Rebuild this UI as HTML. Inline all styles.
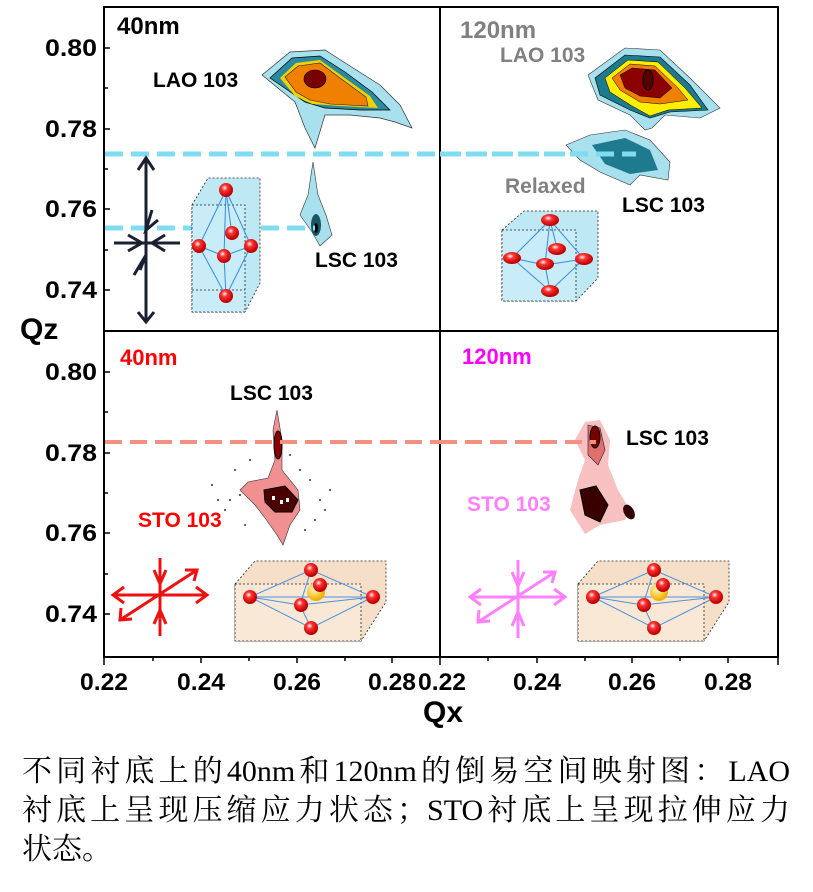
<!DOCTYPE html>
<html><head><meta charset="utf-8"><style>
body{margin:0;background:#fff;width:813px;height:892px;overflow:hidden}
svg{position:absolute;left:0;top:0}
.cap{position:absolute;left:22px;top:752px;width:768px;font-family:"Liberation Serif","Noto Serif CJK SC",serif;font-size:30px;line-height:39px;color:#000;white-space:nowrap}
.j{text-align:justify;text-align-last:justify}
</style></head><body>
<svg width="813" height="750" viewBox="0 0 813 750" font-family="Liberation Sans, sans-serif" font-weight="bold">
<defs>
<radialGradient id="ball" cx="40%" cy="35%" r="60%"><stop offset="0" stop-color="#fff"/><stop offset="0.35" stop-color="#f33"/><stop offset="1" stop-color="#b00"/></radialGradient>
<radialGradient id="gold" cx="40%" cy="35%" r="60%"><stop offset="0" stop-color="#fff8c0"/><stop offset="1" stop-color="#f0b000"/></radialGradient>
</defs>
<g stroke="#000" stroke-width="2" fill="none">
<rect x="104" y="7" width="674" height="650"/>
<line x1="440" y1="7" x2="440" y2="657"/>
<line x1="104" y1="331" x2="778" y2="331"/>
</g>
<g stroke="#000" stroke-width="1.5">
<line x1="104" y1="48" x2="110" y2="48"/><line x1="104" y1="88" x2="108" y2="88"/><line x1="104" y1="129" x2="110" y2="129"/><line x1="104" y1="169" x2="108" y2="169"/><line x1="104" y1="209" x2="110" y2="209"/><line x1="104" y1="250" x2="108" y2="250"/><line x1="104" y1="290" x2="110" y2="290"/>
<line x1="104" y1="372" x2="110" y2="372"/><line x1="104" y1="412" x2="108" y2="412"/><line x1="104" y1="453" x2="110" y2="453"/><line x1="104" y1="493" x2="108" y2="493"/><line x1="104" y1="533" x2="110" y2="533"/><line x1="104" y1="574" x2="108" y2="574"/><line x1="104" y1="614" x2="110" y2="614"/>
<line x1="201" y1="657" x2="201" y2="663"/><line x1="297" y1="657" x2="297" y2="663"/><line x1="392" y1="657" x2="392" y2="663"/>
<line x1="153" y1="657" x2="153" y2="661"/><line x1="249" y1="657" x2="249" y2="661"/><line x1="345" y1="657" x2="345" y2="661"/>
<line x1="440" y1="657" x2="440" y2="665"/><line x1="104" y1="657" x2="104" y2="665"/><line x1="778" y1="657" x2="778" y2="665"/>
<line x1="537" y1="657" x2="537" y2="663"/><line x1="632" y1="657" x2="632" y2="663"/><line x1="728" y1="657" x2="728" y2="663"/>
<line x1="488" y1="657" x2="488" y2="661"/><line x1="585" y1="657" x2="585" y2="661"/><line x1="680" y1="657" x2="680" y2="661"/>
</g>
<g font-size="24" text-anchor="end" fill="#000">
<text x="97" y="56" textLength="52" lengthAdjust="spacingAndGlyphs">0.80</text><text x="97" y="137" textLength="52" lengthAdjust="spacingAndGlyphs">0.78</text><text x="97" y="217" textLength="52" lengthAdjust="spacingAndGlyphs">0.76</text><text x="97" y="298" textLength="52" lengthAdjust="spacingAndGlyphs">0.74</text>
<text x="97" y="380" textLength="52" lengthAdjust="spacingAndGlyphs">0.80</text><text x="97" y="461" textLength="52" lengthAdjust="spacingAndGlyphs">0.78</text><text x="97" y="541" textLength="52" lengthAdjust="spacingAndGlyphs">0.76</text><text x="97" y="622" textLength="52" lengthAdjust="spacingAndGlyphs">0.74</text>
</g>
<g font-size="24" fill="#000">
<text x="80" y="690" textLength="48" lengthAdjust="spacingAndGlyphs">0.22</text><text x="177" y="690" textLength="48" lengthAdjust="spacingAndGlyphs">0.24</text><text x="273" y="690" textLength="48" lengthAdjust="spacingAndGlyphs">0.26</text><text x="368" y="690" textLength="48" lengthAdjust="spacingAndGlyphs">0.28</text>
<text x="418" y="690" textLength="48" lengthAdjust="spacingAndGlyphs">0.22</text><text x="513" y="690" textLength="48" lengthAdjust="spacingAndGlyphs">0.24</text><text x="608" y="690" textLength="48" lengthAdjust="spacingAndGlyphs">0.26</text><text x="704" y="690" textLength="48" lengthAdjust="spacingAndGlyphs">0.28</text>
</g>
<text x="20" y="339" font-size="30">Qz</text>
<text x="423" y="722" font-size="30">Qx</text>

<path d="M262,75 L290,52 L325,50 L350,66 L380,85 L400,105 L412,128 L395,122 L380,118 L350,115 L325,115 L315,148 L305,128 L295,102 Z" fill="#a8e0ee" stroke="#333" stroke-width="0.7"/>
<path d="M270,78 L292,58 L320,56 L345,72 L372,92 L390,110 L360,110 L325,108 L305,102 Z" fill="#2a8aa0" stroke="#000" stroke-width="0.7"/>
<path d="M280,78 L296,63 L320,60 L342,76 L370,96 L378,108 L340,106 L312,104 L295,96 Z" fill="#f5d000"/>
<path d="M285,77 L298,66 L320,63 L340,78 L366,97 L368,106 L330,104 L310,100 L296,92 Z" fill="#f08000" stroke="#222" stroke-width="0.6"/>
<ellipse cx="315" cy="79" rx="11" ry="9" fill="#7a0000" stroke="#000" stroke-width="0.6"/>
<path d="M300,215 L308,195 L313,162 L318,195 L326,215 L332,235 L320,246 L312,232 Z" fill="#a8e0ee" stroke="#333" stroke-width="0.6"/>
<ellipse cx="316" cy="225" rx="5" ry="11" fill="#1a5566"/>
<ellipse cx="316" cy="228" rx="2" ry="5" fill="#000"/>
<g stroke="#80dcf0" stroke-width="5" stroke-dasharray="18,8">
<line x1="105" y1="154" x2="600" y2="154"/>
<line x1="105" y1="228" x2="315" y2="228"/>
</g>
<g stroke="#1a2030" stroke-width="3" fill="none">
<line x1="146" y1="158" x2="146" y2="322"/>
<polyline points="138,170 146,158 154,170"/><polyline points="138,312 146,322 154,312"/>
<line x1="114" y1="243" x2="180" y2="243"/>
<polyline points="128,235 142,243 128,251"/><polyline points="165,235 152,243 165,251"/>
<polyline points="152,210 146,230 158,220"/><polyline points="134,275 146,255 140,270"/>
</g>
<g stroke="#222" stroke-width="0.8" stroke-dasharray="2,2">
<path d="M192,205 L208,178 L260,178 L260,283 L245,312 L192,312 Z" fill="#bfe8f5"/>
<rect x="192" y="205" width="53" height="107" fill="#c8ecf8"/>
<path d="M192,290 L245,290" fill="none"/>
</g>
<g stroke="#3a8ae0" stroke-width="1" fill="none">
<path d="M226,190 L199,246 L226,296 L251,246 Z M226,190 L224,256 L226,296 M199,246 L224,256 L251,246 M226,190 L232,235"/>
</g>
<g fill="url(#ball)"><circle cx="226" cy="190" r="7"/><circle cx="232" cy="233" r="7"/><circle cx="199" cy="246" r="7"/><circle cx="224" cy="256" r="7"/><circle cx="251" cy="246" r="7"/><circle cx="226" cy="296" r="7"/></g>

<path d="M588,75 L625,48 L660,50 L690,78 L720,108 L700,118 L665,115 L652,128 L645,130 L630,115 L598,100 Z" fill="#a8e0ee" stroke="#333" stroke-width="0.6"/>
<path d="M595,78 L625,55 L660,57 L690,85 L708,110 L670,112 L650,118 L630,110 L600,95 Z" fill="#1e7a8e" stroke="#000" stroke-width="0.6"/>
<path d="M605,78 L628,60 L658,62 L685,88 L702,108 L668,110 L650,116 L632,106 L610,92 Z" fill="#ffee00" stroke="#000" stroke-width="0.5"/>
<path d="M612,78 L630,64 L655,66 L678,88 L688,100 L660,104 L640,102 L620,90 Z" fill="#f08000" stroke="#000" stroke-width="0.5"/>
<path d="M620,75 L632,68 L655,70 L672,88 L660,98 L640,96 L625,88 Z" fill="#8b0000" stroke="#000" stroke-width="0.5"/>
<ellipse cx="648" cy="80" rx="5" ry="10" fill="#500" stroke="#000"/>
<path d="M566,145 L590,135 L625,130 L650,140 L670,162 L668,180 L640,175 L630,185 L600,172 L580,160 Z" fill="#a8e0ee" stroke="#333" stroke-width="0.6"/>
<path d="M592,145 L625,138 L650,150 L658,170 L630,174 L605,164 Z" fill="#1e7a8e"/>
<line x1="440" y1="154" x2="636" y2="154" stroke="#80dcf0" stroke-width="5" stroke-dasharray="18,8"/>
<g stroke="#222" stroke-width="0.8" stroke-dasharray="2,2">
<path d="M502,230 L524,211 L598,211 L598,278 L576,301 L502,301 Z" fill="#bfe8f5"/>
<rect x="502" y="230" width="74" height="71" fill="#c8ecf8"/>
</g>
<g stroke="#3a8ae0" stroke-width="1" fill="none">
<path d="M550,220 L512,258 L550,291 L584,259 Z M550,220 L545,265 L550,291 M512,258 L545,265 L584,259 M550,220 L557,248"/>
</g>
<g fill="url(#ball)"><ellipse cx="550" cy="220" rx="9" ry="6"/><ellipse cx="557" cy="249" rx="9" ry="6"/><ellipse cx="512" cy="258" rx="9" ry="6"/><ellipse cx="545" cy="264" rx="9" ry="6"/><ellipse cx="584" cy="259" rx="9" ry="6"/><ellipse cx="550" cy="291" rx="9" ry="6"/></g>

<g fill="#333">
<circle cx="240" cy="495" r="1"/><circle cx="230" cy="500" r="1"/><circle cx="225" cy="510" r="1"/><circle cx="320" cy="500" r="1"/><circle cx="315" cy="520" r="1"/><circle cx="300" cy="470" r="1"/><circle cx="235" cy="470" r="1"/><circle cx="250" cy="460" r="1"/><circle cx="310" cy="480" r="1"/><circle cx="325" cy="510" r="1"/><circle cx="218" cy="500" r="1"/><circle cx="290" cy="455" r="1"/><circle cx="245" cy="525" r="1"/><circle cx="305" cy="530" r="1"/><circle cx="212" cy="485" r="1"/><circle cx="330" cy="490" r="1"/>
</g>
<path d="M277,410 L282,440 L282,470 L298,490 L300,510 L290,525 L283,545 L277,535 L265,518 L255,505 L240,490 L248,482 L268,478 L275,460 L273,430 Z" fill="#f09090" stroke="#333" stroke-width="0.6"/>
<ellipse cx="278" cy="445" rx="4" ry="14" fill="#8b0000" stroke="#000"/>
<path d="M264,490 L285,486 L298,500 L292,512 L275,512 L265,502 Z" fill="#4a0000" stroke="#000"/>
<g fill="#fff"><rect x="272" y="496" width="3" height="4"/><rect x="280" y="500" width="3" height="4"/><rect x="286" y="498" width="3" height="4"/></g>
<line x1="105" y1="442" x2="440" y2="442" stroke="#f49080" stroke-width="4" stroke-dasharray="17,8"/>
<path d="M575,440 L585,422 L600,420 L610,440 L608,465 L618,490 L630,510 L625,520 L600,525 L585,534 L570,510 L578,480 L585,460 Z" fill="#f8c0c0"/>
<path d="M588,425 L600,428 L605,450 L598,465 L588,455 Z" fill="#e07070" stroke="#222" stroke-width="0.6"/>
<ellipse cx="595" cy="437" rx="5" ry="11" fill="#700" stroke="#000"/>
<path d="M580,490 L596,486 L608,505 L600,522 L585,515 Z" fill="#3a0000" stroke="#000"/>
<ellipse cx="629" cy="512" rx="5" ry="8" fill="#300" transform="rotate(-30 629 512)"/>
<line x1="440" y1="442" x2="596" y2="442" stroke="#f49080" stroke-width="4" stroke-dasharray="17,8"/>
<g stroke="#ee1111" stroke-width="3" fill="none">
<line x1="160" y1="558" x2="160" y2="636"/>
<polyline points="154,570 160,584 166,570"/><polyline points="154,624 160,610 166,624"/>
<line x1="113" y1="595" x2="207" y2="595"/>
<polyline points="124,587 113,595 124,603"/><polyline points="196,587 207,595 196,603"/>
<line x1="120" y1="620" x2="197" y2="570"/>
<polyline points="185,570 197,570 194,581"/><polyline points="121,608 120,620 132,619"/>
</g>
<g stroke="#ff80ff" stroke-width="3" fill="none">
<line x1="518" y1="560" x2="518" y2="638"/>
<polyline points="512,572 518,586 524,572"/><polyline points="512,626 518,612 524,626"/>
<line x1="470" y1="597" x2="565" y2="597"/>
<polyline points="481,589 470,597 481,605"/><polyline points="554,589 565,597 554,605"/>
<line x1="478" y1="622" x2="555" y2="572"/>
<polyline points="543,572 555,572 552,583"/><polyline points="479,610 478,622 490,621"/>
</g>
<g id="c1">
<g stroke="#222" stroke-width="0.8" stroke-dasharray="2,2">
<path d="M235,584 L255,561 L386,561 L386,602 L361,641 L235,641 Z" fill="#f6dfc8"/>
<rect x="235" y="584" width="126" height="57" fill="#fae8d6"/>
</g>
<g stroke="#4a90e0" stroke-width="1" fill="none">
<path d="M250,597 L311,570 L373,597 L311,628 Z M250,597 L300,605 L373,597 M311,570 L300,605 L311,628 M250,597 L373,597" />
</g>
<circle cx="316" cy="592" r="9" fill="url(#gold)"/>
<g fill="url(#ball)"><circle cx="311" cy="570" r="7"/><circle cx="250" cy="597" r="7"/><circle cx="373" cy="597" r="7"/><circle cx="320" cy="585" r="7"/><circle cx="301" cy="605" r="7"/><circle cx="311" cy="628" r="7"/></g>
</g>
<use href="#c1" transform="translate(343,0)"/>

<g font-size="21">
<text x="117" y="34" font-size="24" fill="#000">40nm</text>
<text x="153" y="87" fill="#000">LAO 103</text>
<text x="315" y="267" fill="#000">LSC 103</text>
<text x="460" y="38" font-size="24" fill="#808080">120nm</text>
<text x="500" y="62" fill="#808080">LAO 103</text>
<text x="505" y="193" fill="#808080">Relaxed</text>
<text x="622" y="212" fill="#000">LSC 103</text>
<text x="120" y="365" font-size="22" fill="#ff0000">40nm</text>
<text x="230" y="400" fill="#000">LSC 103</text>
<text x="138" y="527" fill="#ff0000">STO 103</text>
<text x="462" y="364" font-size="22" fill="#ff00ff">120nm</text>
<text x="626" y="445" fill="#000">LSC 103</text>
<text x="467" y="511" fill="#ff80ff">STO 103</text>
</g>
</svg>
<div class="cap"><div class="j">不同衬底上的40nm和120nm的倒易空间映射图：LAO</div><div class="j">衬底上呈现压缩应力状态；STO衬底上呈现拉伸应力</div><div>状态。</div></div>
</body></html>
